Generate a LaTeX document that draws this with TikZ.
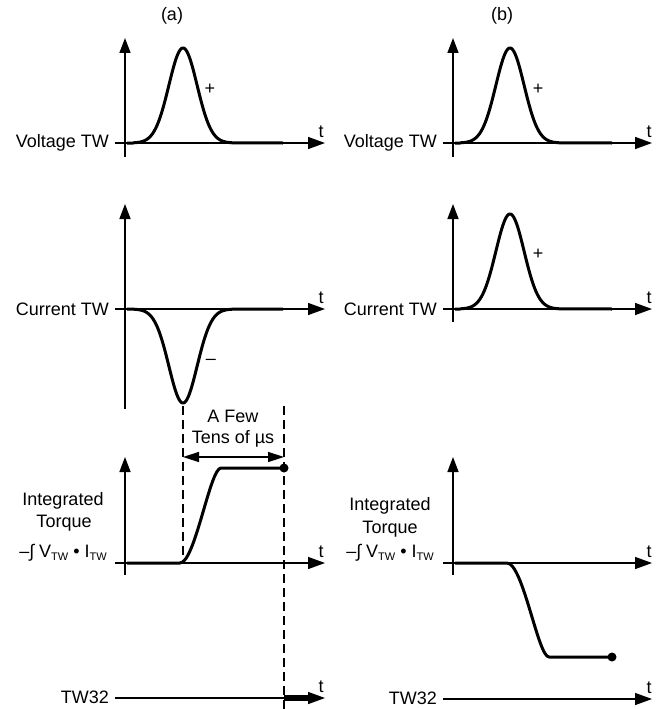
\documentclass[tikz,border=0pt]{standalone}
\usepackage{fontspec}
\setmainfont{Liberation Sans}
\usetikzlibrary{arrows.meta}
\newcommand{\twsub}{\raisebox{-0.35ex}{\fontsize{11}{11}\selectfont TW}}
\begin{document}
\begin{tikzpicture}[x=1pt,y=-1pt,
  haxis/.style={line width=1.5pt, -{Triangle[length=17pt,width=12pt]}},
  vaxis/.style={line width=1.5pt, -{Triangle[length=15pt,width=11pt]}},
  span/.style={line width=1.5pt, {Triangle[length=16pt,width=10pt]}-{Triangle[length=16pt,width=10pt]}},
  sig/.style={line width=3pt, line join=round},
  guide/.style={line width=1.3pt, dash pattern=on 9pt off 5pt},
  dotend/.style={fill=black},
  every node/.style={inner sep=0pt, font=\fontsize{18}{21}\selectfont}]
\useasboundingbox (0,0) rectangle (665,709);

% ---------- titles ----------
\node (titleA) at (172,16) {(a)};
\node (titleB) at (502,16) {(b)};

% ---------- axes coordinates, panel (a) ----------
\coordinate (aVv0) at (125,157); \coordinate (aVv1) at (125,38);
\coordinate (aVh0) at (115,143); \coordinate (aVh1) at (325,143);
\coordinate (aCv0) at (125,409); \coordinate (aCv1) at (125,204);
\coordinate (aCh0) at (115,309); \coordinate (aCh1) at (325,309);
\coordinate (aTv0) at (125,575); \coordinate (aTv1) at (125,457);
\coordinate (aTh0) at (115,563); \coordinate (aTh1) at (325,563);
\coordinate (aWh0) at (115,698); \coordinate (aWh1) at (325,698);

% ---------- axes coordinates, panel (b) ----------
\coordinate (bVv0) at (453,157); \coordinate (bVv1) at (453,38);
\coordinate (bVh0) at (443,143); \coordinate (bVh1) at (652,143);
\coordinate (bCv0) at (453,322); \coordinate (bCv1) at (453,204);
\coordinate (bCh0) at (443,309); \coordinate (bCh1) at (652,309);
\coordinate (bTv0) at (453,575); \coordinate (bTv1) at (453,457);
\coordinate (bTh0) at (443,563); \coordinate (bTh1) at (652,563);
\coordinate (bWh0) at (443,699); \coordinate (bWh1) at (652,699);

% ---------- axes ----------
\foreach \p in {aV,aC,aT,bV,bC,bT}{
  \draw[vaxis] (\p v0) -- (\p v1);
  \draw[haxis] (\p h0) -- (\p h1);
}
\draw[haxis] (aWh0) -- (aWh1);
\draw[haxis] (bWh0) -- (bWh1);

% ---------- t labels ----------
\node[anchor=base] (tAV) at (321,137) {t};
\node[anchor=base] (tAC) at (321,303) {t};
\node[anchor=base] (tAT) at (321,557) {t};
\node[anchor=base] (tAW) at (321,692) {t};
\node[anchor=base] (tBV) at (649,137) {t};
\node[anchor=base] (tBC) at (649,303) {t};
\node[anchor=base] (tBT) at (649,557) {t};
\node[anchor=base] (tBW) at (649,693) {t};

% ---------- axis labels ----------
\node[anchor=east] (lAV) at (109,143) {Voltage TW};
\node[anchor=east] (lAC) at (109,309) {Current TW};
\node[anchor=base] (lAT1) at (63,505) {Integrated};
\node[anchor=base] (lAT2) at (64,527) {Torque};
\node[anchor=base] (lAT3) at (63,557) {–∫ V\twsub{} • I\twsub};
\node[anchor=east] (lAW) at (109,697) {TW32};

\node[anchor=east] (lBV) at (437,143) {Voltage TW};
\node[anchor=east] (lBC) at (437,309) {Current TW};
\node[anchor=base] (lBT1) at (390,510) {Integrated};
\node[anchor=base] (lBT2) at (390,533) {Torque};
\node[anchor=base] (lBT3) at (390,557) {–∫ V\twsub{} • I\twsub};
\node[anchor=east] (lBW) at (437,698) {TW32};

% ---------- signals, panel (a) ----------
\draw[sig] (127,143) -- (133,143)
  -- plot[domain=133:233, samples=120] (\x, {143-95*exp(-((\x-183)/20)*((\x-183)/20))})
  -- (283,143);
\node (plusAV) at (210,89) {+};

\draw[sig] (127,309) -- (133,309)
  -- plot[domain=133:233, samples=120] (\x, {309+94*exp(-((\x-183)/20)*((\x-183)/20))})
  -- (283,309);
\node (minusAC) at (211,362) {–};

\draw[sig] (127,563) -- (180,563) .. controls (195,563) and (210,468) .. (221,468) -- (284,468);
\fill[dotend] (284,468) circle (4.5);

% guides and span arrow
\coordinate (gL0) at (183,406); \coordinate (gL1) at (183,563);
\coordinate (gR0) at (284,406); \coordinate (gR1) at (284,709);
\draw[guide] (gL0) -- (gL1);
\draw[guide] (gR0) -- (gR1);
\coordinate (sp0) at (183,457); \coordinate (sp1) at (284,457);
\draw[span] (sp0) -- (sp1);
\node[anchor=base] (few1) at (233,422) {A Few};
\node[anchor=base] (few2) at (233,443) {Tens of µs};

% TW32 output (a)
\draw[line width=6pt] (284,698) -- (308,698);

% ---------- signals, panel (b) ----------
\draw[sig] (455,143) -- (460,143)
  -- plot[domain=460:560, samples=120] (\x, {143-95*exp(-((\x-510)/20)*((\x-510)/20))})
  -- (612,143);
\node (plusBV) at (538,89) {+};

\draw[sig] (455,309) -- (460,309)
  -- plot[domain=460:560, samples=120] (\x, {309-95*exp(-((\x-510)/20)*((\x-510)/20))})
  -- (612,309);
\node (plusBC) at (538,254) {+};

\draw[sig] (455,563) -- (507,563) .. controls (523,563) and (538,657) .. (549,657) -- (612,657);
\fill[dotend] (612,657) circle (4.5);
\end{tikzpicture}
\end{document}
